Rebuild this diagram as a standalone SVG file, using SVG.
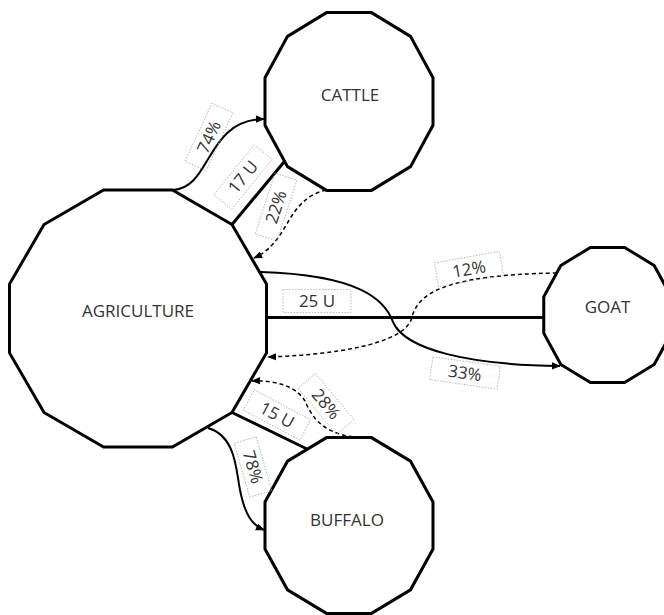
<svg xmlns="http://www.w3.org/2000/svg" width="664" height="615" viewBox="0 0 664 615">
<defs>
<marker id="ah" viewBox="0 0 10 10" refX="9" refY="5" markerWidth="9" markerHeight="9" markerUnits="userSpaceOnUse" orient="auto">
<path d="M0,1 L10,5 L0,9 Z" fill="#000"/>
</marker>
</defs>
<style>
.node{fill:#fff;stroke:#000;stroke-width:3;stroke-linejoin:miter}
.nt{font-family:"Open Sans","Liberation Sans",sans-serif;font-size:17px;fill:#333;text-anchor:middle}
.thick{fill:none;stroke:#000;stroke-width:3}
.solid{fill:none;stroke:#000;stroke-width:2;marker-end:url(#ah)}
.dash{fill:none;stroke:#000;stroke-width:1.5;stroke-dasharray:4 3;marker-end:url(#ah)}
.lb{fill:none;stroke:#aaa;stroke-width:0.8;stroke-dasharray:1.5 1.5}
.lt{font-family:"Open Sans","Liberation Sans",sans-serif;font-size:17px;fill:#333;text-anchor:middle}
</style>
<rect width="664" height="615" fill="#fff"/>
<g id="agriculture">
<polygon class="node" points="266.5,284.1 232,224.5 172.4,190 103.6,190 44,224.5 9.5,284.1 9.5,352.9 44,412.5 103.6,447 172.4,447 232,412.5 266.5,352.9"/>
<text class="nt" x="138" y="317">AGRICULTURE</text>
</g>
<g id="cattle">
<polygon class="node" points="433,77.7 410.5,36.4 371.5,12.6 326.5,12.6 287.5,36.4 265,77.7 265,125.3 287.5,166.6 326.5,190.4 371.5,190.4 410.5,166.6 433,125.3"/>
<text class="nt" x="350" y="101">CATTLE</text>
</g>
<g id="goat">
<polygon class="node" points="671.3,296.9 654.2,265.5 624.6,247.4 590.4,247.4 560.8,265.5 543.75,296.9 543.75,333.1 560.8,364.5 590.4,382.6 624.6,382.6 654.2,364.5 671.3,333.1"/>
<text class="nt" x="607.5" y="313">GOAT</text>
</g>
<g id="buffalo">
<polygon class="node" points="433,501.9 410.5,461.2 371.5,437.6 326.5,437.6 287.5,461.2 265,501.9 265,549.1 287.5,589.8 326.5,613.4 371.5,613.4 410.5,589.8 433,549.1"/>
<text class="nt" x="347" y="526">BUFFALO</text>
</g>
<g id="connectors">
<line class="thick" x1="232" y1="224.5" x2="284" y2="162"/>
<line class="thick" x1="266.5" y1="317.5" x2="543.75" y2="317.5"/>
<line class="thick" x1="232" y1="412.5" x2="307" y2="449"/>
<path class="solid" d="M173,190 C212,188 205,120 264,119"/>
<path class="dash" d="M326,190 C285,200 290,242 254,258"/>
<path class="dash" d="M557,273 C440,275 418,295 412,317 C406,345 330,355 268,357"/>
<path class="solid" d="M261,272 C360,275 385,300 393,322 C405,350 470,365 560,366"/>
<path class="dash" d="M353,437 C318,432 310,412 305,401 C296,386 275,380 252,381"/>
<path class="solid" d="M208,428 C236,436 236,470 240,490 C245,515 252,525 264,530"/>
</g>
<g id="labels">
<g transform="translate(209,137) rotate(-65)"><rect class="lb" x="-32" y="-11.5" width="64" height="23"/><text class="lt" y="6">74%</text></g>
<g transform="translate(243,177) rotate(-51)"><rect class="lb" x="-32" y="-11.5" width="64" height="23"/><text class="lt" y="6">17 U</text></g>
<g transform="translate(276,207) rotate(-72)"><rect class="lb" x="-32" y="-11.5" width="64" height="23"/><text class="lt" y="6">22%</text></g>
<g transform="translate(469,269) rotate(-10)"><rect class="lb" x="-33" y="-12" width="66" height="24"/><text class="lt" y="6">12%</text></g>
<g transform="translate(317,301)"><rect class="lb" x="-34" y="-11.5" width="68" height="23"/><text class="lt" y="6">25 U</text></g>
<g transform="translate(465,373) rotate(8)"><rect class="lb" x="-34" y="-11.5" width="68" height="23"/><text class="lt" y="6">33%</text></g>
<g transform="translate(326,404) rotate(50)"><rect class="lb" x="-30" y="-11.5" width="60" height="23"/><text class="lt" y="6">28%</text></g>
<g transform="translate(277,415) rotate(28)"><rect class="lb" x="-32" y="-11.5" width="64" height="23"/><text class="lt" y="6">15 U</text></g>
<g transform="translate(253,467) rotate(74)"><rect class="lb" x="-28" y="-11.5" width="56" height="23"/><text class="lt" y="6">78%</text></g>
</g>
</svg>
